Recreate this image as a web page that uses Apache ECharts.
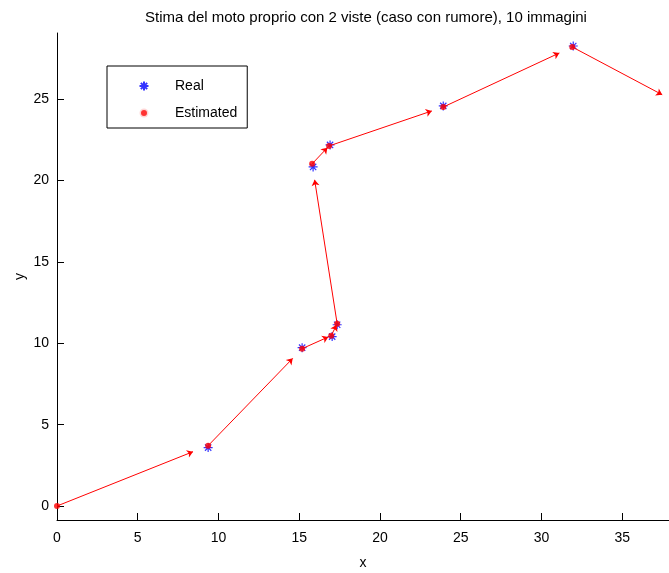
<!DOCTYPE html>
<html>
<head>
<meta charset="utf-8">
<script src="https://cdn.jsdelivr.net/npm/echarts@6/dist/echarts.min.js"></script>
<style>
  html, body { margin: 0; padding: 0; background: #fff; }
  #chart { width: 669px; height: 573px; }
</style>
</head>
<body>
<div id="chart"></div>
<script>
// punti reali (asterischi blu)
var realX = [9.36, 15.18, 17.04, 17.35, 15.86, 16.91, 23.92, 31.97, 38.1];
var realY = [3.59, 9.73, 10.41, 11.14, 20.84, 22.19, 24.59, 28.27, 24.95];
// punti stimati (rossi), il primo e' l'origine
var estX = [0, 9.36, 15.18, 16.98, 17.35, 15.80, 16.85, 23.92, 31.91, 38.1];
var estY = [0, 3.71, 9.67, 10.47, 11.20, 21.03, 22.13, 24.52, 28.21, 24.95];
var xTicks = [0, 5, 10, 15, 20, 25, 30, 35];
var yTicks = [0, 5, 10, 15, 20, 25];

var realData = realX.map(function (x, i) { return [x, realY[i]]; });
var estData = estX.map(function (x, i) { return [x, estY[i]]; });

// frecce tipo quiver (scala 0.9)
var arrows = [];
for (var i = 0; i < estData.length - 1; i++) {
  var a = estData[i], b = estData[i + 1];
  arrows.push({ coords: [a, [a[0] + 0.9 * (b[0] - a[0]), a[1] + 0.9 * (b[1] - a[1])]] });
}

var asterisk = 'path://M0,-1L0,1M-1,0L1,0M-0.7,-0.7L0.7,0.7M-0.7,0.7L0.7,-0.7';
var font = 'Liberation Sans';

var chart = echarts.init(document.getElementById('chart'));
chart.setOption({
  animation: false,
  title: {
    text: 'Stima del moto proprio con 2 viste (caso con rumore), 10 immagini',
    left: 361,
    textAlign: 'center',
    top: 5,
    textStyle: { fontFamily: font, fontSize: 15, fontWeight: 'normal', color: '#000' }
  },
  legend: {
    left: 107,
    top: 66,
    orient: 'vertical',
    data: [
      { name: 'Real', icon: asterisk },
      { name: 'Estimated', icon: 'circle', itemStyle: { color: '#ff0000', borderColor: '#fff', borderWidth: 3 } }
    ],
    borderColor: '#000',
    borderWidth: 1,
    padding: [12, 10, 7, 31],
    itemWidth: 52,
    itemHeight: 9,
    itemGap: 11,
    textStyle: { fontFamily: font, fontSize: 14, color: '#000', lineHeight: 16 }
  },
  grid: { left: 57, right: 0, top: 33, bottom: 53, outerBoundsMode: 'none' },
  xAxis: {
    type: 'value',
    min: 0,
    max: 37.9,
    name: 'x',
    nameLocation: 'middle',
    nameGap: 36,
    nameMoveOverlap: false,
    nameTextStyle: { fontFamily: font, fontSize: 14, color: '#000' },
    axisLine: { onZero: false, lineStyle: { color: '#000', width: 1 } },
    axisTick: { inside: true, length: 7, customValues: xTicks, lineStyle: { color: '#000' } },
    axisLabel: { customValues: xTicks, margin: 11, fontFamily: font, fontSize: 14, color: '#000' },
    splitLine: { show: false }
  },
  yAxis: {
    type: 'value',
    min: -0.86,
    max: 29.07,
    name: 'y',
    nameLocation: 'middle',
    nameGap: 30,
    nameMoveOverlap: false,
    nameTextStyle: { fontFamily: font, fontSize: 14, color: '#000' },
    axisLine: { onZero: false, lineStyle: { color: '#000', width: 1 } },
    axisTick: { inside: true, length: 7, customValues: yTicks, lineStyle: { color: '#000' } },
    axisLabel: { customValues: yTicks, margin: 8, fontFamily: font, fontSize: 14, color: '#000' },
    splitLine: { show: false }
  },
  series: [
    {
      name: 'Real',
      type: 'scatter',
      data: realData,
      symbol: asterisk,
      symbolSize: 9,
      itemStyle: { color: 'rgba(0,0,0,0)', borderColor: '#0000ff', borderWidth: 1.2 },
      z: 3
    },
    {
      name: 'Estimated',
      type: 'scatter',
      data: estData,
      symbol: 'circle',
      symbolSize: 6,
      itemStyle: { color: '#ff0000' },
      z: 4
    },
    {
      name: 'arrows',
      type: 'lines',
      coordinateSystem: 'cartesian2d',
      data: arrows,
      symbol: ['none', 'arrow'],
      symbolSize: 6,
      lineStyle: { color: '#ff0000', width: 1, opacity: 1 },
      z: 5
    }
  ]
});
</script>
</body>
</html>
